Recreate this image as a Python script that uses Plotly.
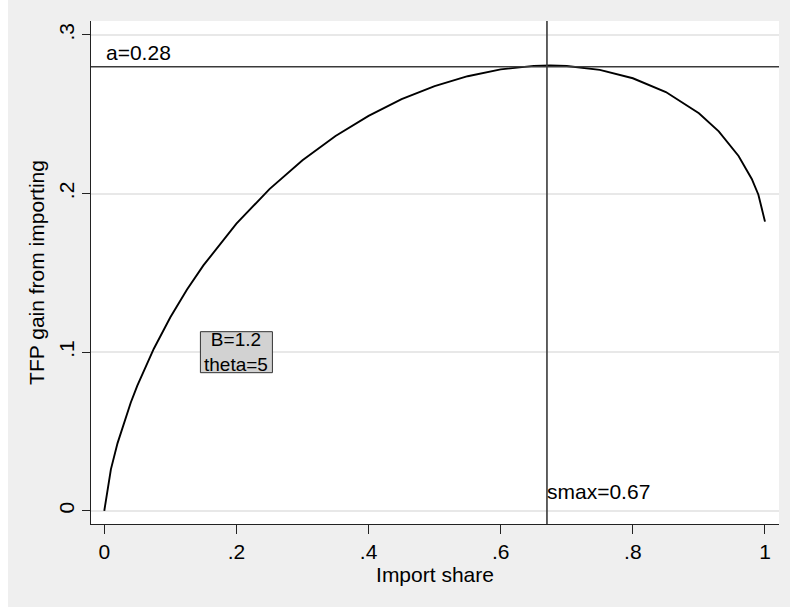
import plotly.graph_objects as go

# Curve values
import_share = [0, 0.01, 0.02, 0.03, 0.04, 0.05, 0.075, 0.10, 0.125, 0.15,
                0.20, 0.25, 0.30, 0.35, 0.40, 0.45, 0.50, 0.55, 0.60, 0.65,
                0.675, 0.70, 0.75, 0.80, 0.85, 0.90, 0.93, 0.96, 0.98, 0.99, 1.0]
tfp_gain = [0, 0.0261, 0.0425, 0.0561, 0.0681, 0.0789, 0.1022, 0.1220, 0.1393, 0.1547,
            0.1810, 0.2028, 0.2210, 0.2363, 0.2490, 0.2595, 0.2678, 0.2740, 0.2783, 0.2805,
            0.2807, 0.2804, 0.2780, 0.2727, 0.2640, 0.2506, 0.2392, 0.2237, 0.2092, 0.1993,
            0.1823]

a_value = 0.28
smax_value = 0.67
param_B = 1.2
param_theta = 5

x_tickvals = [0, 0.2, 0.4, 0.6, 0.8, 1]
x_ticktext = ["0", ".2", ".4", ".6", ".8", "1"]
y_tickvals = [0, 0.1, 0.2, 0.3]
y_ticktext = ["0", ".1", ".2", ".3"]

FONT = "Liberation Sans, Arial, sans-serif"
FS = 21

fig = go.Figure()
fig.add_trace(go.Scatter(x=import_share, y=tfp_gain, mode="lines",
                         line=dict(color="black", width=1.9),
                         showlegend=False, hoverinfo="skip"))

# reference lines
fig.add_shape(type="line", xref="paper", yref="y", x0=0, x1=1, y0=a_value, y1=a_value,
              line=dict(color="#3a3a3a", width=1.6))
fig.add_shape(type="line", xref="x", yref="paper", x0=smax_value, x1=smax_value, y0=0, y1=1,
              line=dict(color="#3a3a3a", width=1.6))

# parameter box
fig.add_shape(type="rect", xref="x", yref="y", xsizemode="pixel", ysizemode="pixel",
              xanchor=0.2, yanchor=0.1, x0=-36, x1=36, y0=-20.5, y1=20.5,
              fillcolor="#d2d2d2", line=dict(color="#333333", width=1))
fig.add_annotation(x=0.2, y=0.1, xref="x", yref="y",
                   text=f"B={param_B}<br>theta={param_theta}",
                   showarrow=False, yshift=0, align="center",
                   font=dict(family=FONT, size=19, color="black"))

fig.add_annotation(x=0, y=a_value, xref="x", yref="y", text=f"a={a_value:.2f}",
                   showarrow=False, xanchor="left", yanchor="bottom", yshift=1,
                   font=dict(family=FONT, size=FS, color="black"))
fig.add_annotation(x=smax_value, y=0, xref="x", yref="y", text=f"smax={smax_value:.2f}",
                   showarrow=False, xanchor="left", yanchor="bottom", yshift=6, xshift=-2,
                   font=dict(family=FONT, size=FS, color="black"))

fig.update_layout(
    width=782, height=607,
    margin=dict(l=83, r=11.3, t=21, b=83.3),
    paper_bgcolor="#efefef", plot_bgcolor="white",
    font=dict(family=FONT, size=FS, color="black"),
    showlegend=False,
)
fig.update_xaxes(range=[-0.0201, 1.0212], tickvals=x_tickvals, ticktext=x_ticktext,
                 showgrid=False, zeroline=False, showline=True, linecolor="#222",
                 linewidth=1.2, ticks="outside", ticklen=9, tickcolor="#222", tickwidth=1.2,
                 tickfont=dict(size=FS), title=dict(text="Import share", font=dict(size=FS),
                                                    standoff=4))
fig.update_yaxes(range=[-0.00833, 0.3088], tickvals=y_tickvals, ticktext=y_ticktext,
                 showgrid=True, gridcolor="#e8e8e8", gridwidth=1.5, zeroline=False,
                 showline=True, linecolor="#222", linewidth=1.2, ticks="outside", ticklen=8,
                 tickcolor="#222", tickwidth=1.2, tickangle=-90, tickfont=dict(size=FS),
                 title=dict(text="TFP gain from importing", font=dict(size=FS), standoff=4))

fig.write_html("out.html",
               post_script="document.body.style.margin='0px 0px 0px 8px';"
                           "document.body.style.overflow='hidden';")
